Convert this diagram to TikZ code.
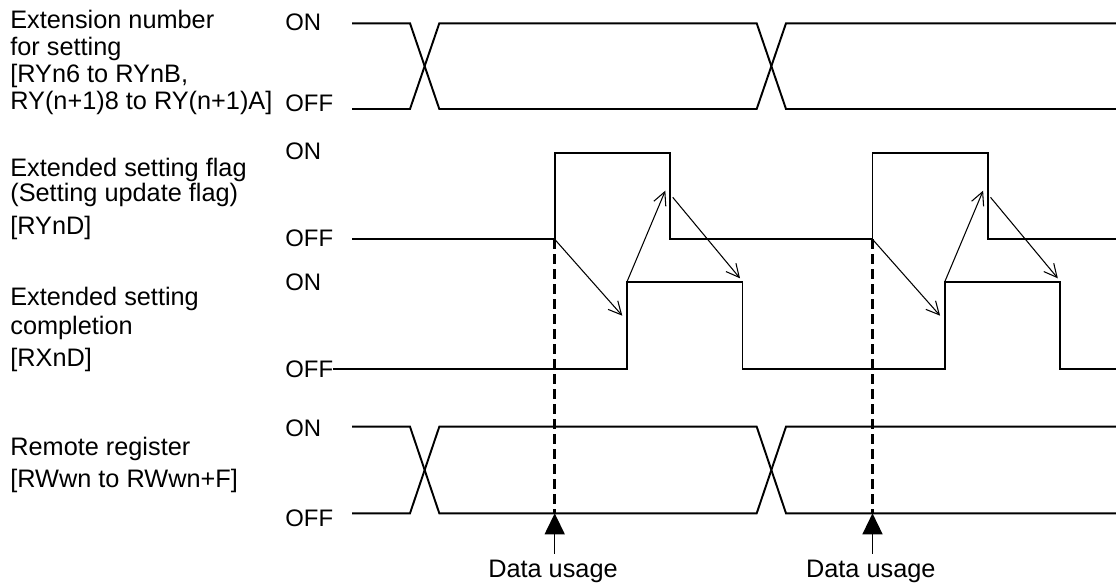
\documentclass[tikz,border=0pt]{standalone}
\usepackage{fontspec}
\setmainfont{Liberation Sans}
\usetikzlibrary{arrows.meta}

\begin{document}
\begin{tikzpicture}[x=0.02cm, y=-0.02cm,
    font=\fontsize{13.6}{15.4}\selectfont,
    signal/.style={line width=1.1pt},
    handshake/.style={line width=0.6pt, -{Straight Barb[length=0.26cm, width=0.26cm]}},
    usage/.style={line width=1.9pt, dash pattern=on 0.2cm off 0.1cm},
    level/.style={anchor=base west, inner sep=0pt},
    caption/.style={anchor=base west, inner sep=0pt, align=left,
      font=\fontsize{14.4}{15.4}\selectfont}]
    \def\period{317.8}

    \useasboundingbox (0,0) rectangle (1116,584);

    % Signal names (placed at the baseline of their last line)
    \node[caption] (ext) at (10,110) {Extension number\\for setting\\{}[RYn6 to RYnB,\\RY(n+1)8 to RY(n+1)A]};
    \node[caption] (flag) at (10,235) {Extended setting flag\\[-1pt](Setting update flag)\\[3.4pt]{}[RYnD]};
    \node[caption] (done) at (10,366) {Extended setting\\[1.1pt]completion\\[2.3pt]{}[RXnD]};
    \node[caption] (reg) at (10,487) {Remote register\\[2.8pt]{}[RWwn to RWwn+F]};

    % Levels
    \node[level] (exton) at (285,30.7) {ON};
    \node[level] (extoff) at (285,112) {OFF};
    \node[level] (flagon) at (285,159.3) {ON};
    \node[level] (flagoff) at (285,246.7) {OFF};
    \node[level] (doneon) at (285,291) {ON};
    \node[level] (doneoff) at (285,377.7) {OFF};
    \node[level] (regon) at (285,436.7) {ON};
    \node[level] (regoff) at (285,526.7) {OFF};

    % Waveforms
    \foreach \on/\off in {23.3/109, 426.7/513.3} {
      \draw[signal] (352,\on) -- (410,\on) -- (439.3,\off) -- (756.7,\off) -- (786,\on) -- (1116,\on);
      \draw[signal] (352,\off) -- (410,\off) -- (439.3,\on) -- (756.7,\on) -- (786,\off) -- (1116,\off);
    }
    \draw[signal] (352,239.3) -| (554.7,152.7) -| (670,239.3) -| (872.5,152.7) -| (988,239.3) -- (1116,239.3);
    \draw[signal] (doneoff.base east) ++(0,-8.4) -| (627.3,282) -| (742.5,369.3) -| (945,282) -| (1060.3,369.3) -- (1116,369.3);

    % Handshake and data usage, once per cycle
    \foreach \i in {0,1} {
      \begin{scope}[xshift=\i*\period*0.02cm]
        \coordinate (rise\i) at (554.7,239.3);
        \coordinate (ackin\i) at (622.3,315.7);
        \coordinate (ackup\i) at (627.3,281);
        \coordinate (flagin\i) at (665.3,190.7);
        \coordinate (flagdn\i) at (672.7,197.3);
        \coordinate (ackdn\i) at (740,278.3);
        \coordinate (tip\i) at (554.7,513.3);
        \node[anchor=base, inner sep=3pt, font=\fontsize{14.4}{15.4}\selectfont] (use\i) at (553,577) {Data usage};

        \draw[handshake] (rise\i) -- (ackin\i);
        \draw[handshake] (ackup\i) -- (flagin\i);
        \draw[handshake] (flagdn\i) -- (ackdn\i);
        \draw[usage] (rise\i) -- (tip\i);
        \draw[line width=0.8pt, -{Triangle[length=0.42cm, width=0.4cm]}] (use\i.north -| tip\i) -- (tip\i);
      \end{scope}
    }
\end{tikzpicture}
\end{document}
